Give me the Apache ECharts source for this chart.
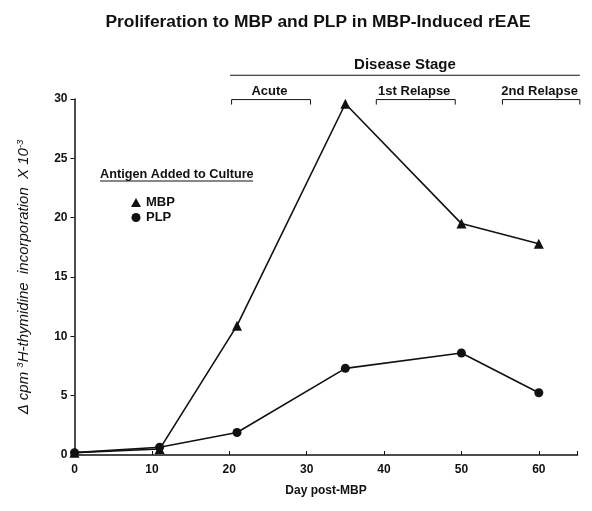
<!DOCTYPE html>
<html><head><meta charset="utf-8">
<script src="https://cdn.jsdelivr.net/npm/echarts@6/dist/echarts.min.js"></script>
<style>html,body{margin:0;padding:0;background:#fff}#c{width:592px;height:511px}</style>
</head><body><div id="c"></div>
<script>
const days = [0, 11, 21, 35, 50, 60];
const mbp = [0.2, 0.5, 10.9, 29.6, 19.5, 17.8];
const plp = [0.2, 0.65, 1.9, 7.3, 8.6, 5.25];
const xTicks = [0, 10, 20, 30, 40, 50, 60];
const yTicks = [0, 5, 10, 15, 20, 25, 30];
const stageNames = ['Acute', '1st Relapse', '2nd Relapse'];
const stageStart = [20.3, 39, 55.3];
const stageEnd = [30.5, 49.2, 65.3];
const stageOverall = [20.1, 65.3];

const FONT = '"Liberation Sans", Arial, sans-serif';
const chart = echarts.init(document.getElementById('c'), null, {renderer: 'canvas'});
const mk = (xs, ys) => xs.map((d, i) => [d, ys[i]]);

chart.setOption({
  animation: false,
  backgroundColor: '#fff',
  textStyle: {fontFamily: FONT, color: '#111'},
  title: {
    text: 'Proliferation to MBP and PLP in MBP-Induced rEAE',
    left: 313, top: 9, textAlign: 'center',
    textStyle: {fontFamily: FONT, fontSize: 17.4, fontWeight: 'bold', color: '#111'}
  },
  grid: {left: 74.5, right: 14.5, top: 99, bottom: 56},
  legend: {
    orient: 'vertical', left: 126, top: 191, itemGap: 2,
    itemWidth: 10, itemHeight: 9,
    textStyle: {fontFamily: FONT, fontSize: 13, fontWeight: 'bold', color: '#111'},
    data: [{name: 'MBP', icon: 'triangle'}, {name: 'PLP', icon: 'circle'}]
  },
  xAxis: {
    type: 'value', min: 0, max: 65, interval: 10,
    name: 'Day post-MBP', nameLocation: 'middle', nameGap: 30,
    nameTextStyle: {fontFamily: FONT, fontSize: 12, fontWeight: 'bold', color: '#111'},
    axisLine: {lineStyle: {color: '#111', width: 1.5}},
    axisTick: {inside: true, length: 4, lineStyle: {color: '#111'}},
    axisLabel: {fontFamily: FONT, fontSize: 12, fontWeight: 'bold', color: '#111', margin: 9,
      formatter: v => xTicks.includes(v) ? String(v) : ''},
    splitLine: {show: false}
  },
  yAxis: {
    type: 'value', min: 0, max: 30, interval: 5,
    name: 'Δ cpm {s|3}H-thymidine  incorporation  X 10{s|-3}',
    nameLocation: 'middle', nameGap: 42,
    nameTextStyle: {fontFamily: FONT, fontSize: 15, fontStyle: 'italic', color: '#111',
      rich: {s: {fontSize: 9.5, verticalAlign: 'top', fontFamily: FONT, fontStyle: 'italic', padding: [0, 0, 7, 0]}}},
    axisLine: {show: true, lineStyle: {color: '#111', width: 1.5}},
    axisTick: {show: true, length: 4, lineStyle: {color: '#111'}},
    axisLabel: {fontFamily: FONT, fontSize: 12, fontWeight: 'bold', color: '#111', margin: 7,
      formatter: v => yTicks.includes(v) ? String(v) : ''},
    splitLine: {show: false}
  },
  series: [
    {name: 'MBP', type: 'line', data: mk(days, mbp), symbol: 'triangle', symbolSize: 10,
      lineStyle: {color: '#111', width: 1.6}, itemStyle: {color: '#111'}, z: 3},
    {name: 'PLP', type: 'line', data: mk(days, plp), symbol: 'circle', symbolSize: 9,
      lineStyle: {color: '#111', width: 1.6}, itemStyle: {color: '#111'}, z: 4}
  ]
});

// Annotations positioned from data-space coordinates
const px = (x, y) => chart.convertToPixel({gridIndex: 0}, [x, y]);
const g = [];
const topY = 32.0, brY = 29.95, dsLabelY = 32.9, brLabelY = 30.67;
const a = px(stageOverall[0], topY), b = px(stageOverall[1], topY);
g.push({type: 'line', shape: {x1: a[0], y1: a[1], x2: b[0], y2: b[1]}, style: {stroke: '#111', lineWidth: 1.2}});
const dsc = px((stageOverall[0] + stageOverall[1]) / 2, dsLabelY);
g.push({type: 'text', x: dsc[0], y: dsc[1], style: {text: 'Disease Stage', fontFamily: FONT, fontSize: 15, fontWeight: 'bold', fill: '#111', align: 'center', verticalAlign: 'middle'}});
stageNames.forEach((n, i) => {
  const p1 = px(stageStart[i], brY), p2 = px(stageEnd[i], brY);
  g.push({type: 'polyline', shape: {points: [[p1[0], p1[1] + 5], [p1[0], p1[1]], [p2[0], p2[1]], [p2[0], p2[1] + 5]]}, style: {stroke: '#111', lineWidth: 1, fill: null}});
  const lc = px((stageStart[i] + stageEnd[i]) / 2 - 0.2, brLabelY);
  g.push({type: 'text', x: lc[0], y: lc[1], style: {text: n, fontFamily: FONT, fontSize: 13, fontWeight: 'bold', fill: '#111', align: 'center', verticalAlign: 'middle'}});
});
// legend heading
g.push({type: 'text', x: 100, y: 174, style: {text: 'Antigen Added to Culture', fontFamily: FONT, fontSize: 12.7, fontWeight: 'bold', fill: '#111', verticalAlign: 'middle'}});
g.push({type: 'line', shape: {x1: 100, y1: 181, x2: 253, y2: 181}, style: {stroke: '#111', lineWidth: 1}});
chart.setOption({graphic: g});
</script></body></html>
